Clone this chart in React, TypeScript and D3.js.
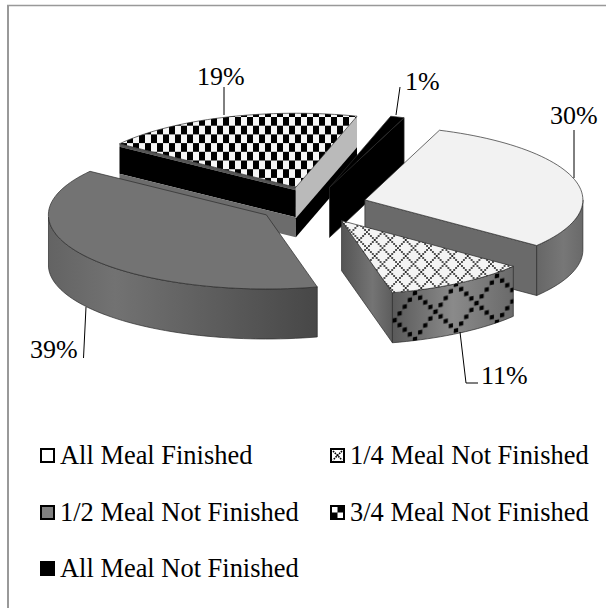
import * as d3 from 'd3';

// ─── Data ───────────────────────────────────────────────────

const categories = [
  'All Meal Finished',
  '1/4 Meal Not Finished',
  '1/2 Meal Not Finished',
  '3/4 Meal Not Finished',
  'All Meal Not Finished',
];
const percentages = [30, 11, 39, 19, 1];
const sliceLabels = ['30%', '11%', '39%', '19%', '1%'];

// ─── Layout ─────────────────────────────────────────────────

const width = 606;
const height = 608;
const font = '"Liberation Serif", "Times New Roman", serif';
const fontSize = 26;
const legendFontSize = 26.45;

const cx = 312.5;
const cy = 205;
const radius = 218;
const tilt = 0.34; // ellipse squash of the 3D view
const depth = 50;
const explode = 0.25;
const toRad = Math.PI / 180;

// the original has a slight perspective, so screen angles drift a little from true ones
const perspective = d3
  .scaleLinear()
  .domain([20, 128, 167.6, 308, 380].map((d) => d * toRad))
  .range([0, 0, 1.1, 2, 0].map((d) => d * toRad));

// back to front
const drawOrder = [3, 4, 0, 2, 1];

const leaders = [
  { pts: [[574, 130], [574, 178]], tx: 550, ty: 124 },
  { pts: [[460, 332], [466, 383], [478, 383]], tx: 481, ty: 384 },
  { pts: [[86, 307], [83.5, 358]], tx: 30, ty: 358 },
  { pts: [[224, 87], [224, 115]], tx: 197, ty: 85 },
  { pts: [[400, 87], [396, 115]], tx: 405, ty: 90 },
];

const legendPos = [
  { x: 40, y: 448 },
  { x: 330, y: 448 },
  { x: 40, y: 505 },
  { x: 330, y: 505 },
  { x: 40, y: 561 },
];

const topFill = ['#f2f2f2', 'url(#lattice)', '#737373', 'url(#checker)', '#000'];
const arcFill = ['url(#arc30)', 'url(#arc11)', 'url(#arc39)', '#000', '#000'];
const radialFill = ['#6a6a6a', 'url(#rad11)', '#6a6a6a', '#000', '#000'];

// colour bands down the cut faces of the 19% slice: [from depth, to depth, colour]
const bandsFront: [number, number, string][] = [
  [0, 3, '#555'],
  [3, 30, '#000'],
  [30, 50, '#6c6c6c'],
];
const bandsCut: [number, number, string][] = [
  [0, 31, '#bababa'],
  [31, 50, '#000'],
];

// ─── Geometry ───────────────────────────────────────────────

const pie = d3
  .pie<number>()
  .sort(null)
  .startAngle(20 * toRad)
  .endAngle(380 * toRad);
const arcs = pie(percentages);

const toPath = d3.line<[number, number]>();

function apex(a: d3.PieArcDatum<number>): [number, number] {
  const mid = (a.startAngle + a.endAngle) / 2;
  return [
    cx + explode * radius * Math.sin(mid),
    cy - explode * radius * tilt * Math.cos(mid),
  ];
}

function rim(a: d3.PieArcDatum<number>, t: number): [number, number] {
  const [ax, ay] = apex(a);
  const s = t - perspective(t);
  return [ax + radius * Math.sin(s), ay - radius * tilt * Math.cos(s)];
}

function samples(a: d3.PieArcDatum<number>, t0: number, t1: number) {
  const n = Math.max(2, Math.ceil((t1 - t0) / (toRad * 2)));
  return d3.range(n + 1).map((i) => rim(a, t0 + ((t1 - t0) * i) / n));
}

const down = (p: [number, number], d: number): [number, number] => [p[0], p[1] + d];

function radialFace(a: d3.PieArcDatum<number>, t: number, d0 = 0, d1 = depth) {
  const ap = apex(a);
  const r = rim(a, t);
  return toPath([down(ap, d0), down(r, d0), down(r, d1), down(ap, d1)])! + 'Z';
}

function Slice({ index }: { index: number }) {
  const a = arcs[index];
  const ap = apex(a);
  const top = toPath([ap, ...samples(a, a.startAngle, a.endAngle)])! + 'Z';

  const arcFrom = Math.max(a.startAngle, 90 * toRad);
  const arcTo = Math.min(a.endAngle, 270 * toRad);
  let rimFace: string | null = null;
  if (arcTo > arcFrom) {
    const upper = samples(a, arcFrom, arcTo);
    const lower = upper.map((p) => down(p, depth)).reverse();
    rimFace = toPath([...upper, ...lower])! + 'Z';
  }

  const startShows = Math.sin(a.startAngle) < 0;
  const endShows = Math.sin(a.endAngle) > 0;
  const edge = { stroke: '#2b2b2b', strokeWidth: 0.7, strokeLinejoin: 'round' as const };

  return (
    <g>
      {startShows &&
        (index === 3 ? (
          bandsFront.map(([d0, d1, c]) => (
            <path key={d0} d={radialFace(a, a.startAngle, d0, d1)} fill={c} />
          ))
        ) : (
          <path d={radialFace(a, a.startAngle)} fill={radialFill[index]} {...edge} />
        ))}
      {endShows &&
        (index === 3 ? (
          bandsCut.map(([d0, d1, c]) => (
            <path key={d0} d={radialFace(a, a.endAngle, d0, d1)} fill={c} />
          ))
        ) : (
          <path d={radialFace(a, a.endAngle)} fill={radialFill[index]} {...edge} />
        ))}
      {rimFace && <path d={rimFace} fill={arcFill[index]} {...edge} />}
      {rimFace && index === 1 && <path d={rimFace} fill="url(#latticeBig)" />}
      <path d={top} fill={topFill[index]} {...edge} />
    </g>
  );
}

// dotted diagonals of the lattice tile
function LatticeDots({ w, h, n, s, color }: { w: number; h: number; n: number; s: number; color: string }) {
  return (
    <>
      {d3.range(n).map((i) => (
        <g key={i} fill={color}>
          <rect x={(i * w) / n - s / 2} y={(i * h) / n - s / 2} width={s} height={s} />
          <rect x={w - (i * w) / n - s / 2} y={(i * h) / n - s / 2} width={s} height={s} />
          {i === 0 && <rect x={-s / 2} y={h - s / 2} width={s} height={s} />}
          {i === 0 && <rect x={w - s / 2} y={h - s / 2} width={s} height={s} />}
          {i === 0 && <rect x={w - s / 2} y={-s / 2} width={s} height={s} />}
        </g>
      ))}
    </>
  );
}

function Swatch({ index, x, y }: { index: number; x: number; y: number }) {
  const size = 15;
  const inner = { x: x + 1, y: y + 1, width: size - 2, height: size - 2 };
  if (index === 0) return <rect {...inner} fill="#fff" stroke="#000" strokeWidth={2} />;
  if (index === 2) return <rect {...inner} fill="#808080" stroke="#000" strokeWidth={2} />;
  if (index === 4) return <rect x={x} y={y} width={size} height={size} fill="#000" />;
  if (index === 1) {
    return (
      <g>
        <rect {...inner} fill="#fff" stroke="#000" strokeWidth={2} />
        <path
          d={`M${x + 3},${y + 3}L${x + size - 3},${y + size - 3}M${x + size - 3},${y + 3}L${x + 3},${y + size - 3}`}
          stroke="#000"
          strokeWidth={1.6}
          strokeDasharray="1.6 0.9"
        />
      </g>
    );
  }
  const half = size / 2;
  return (
    <g>
      <rect x={x} y={y} width={size} height={size} fill="#000" />
      <rect x={x + 2} y={y + 2} width={half - 2} height={half - 2} fill="#fff" />
      <rect x={x + half} y={y + half} width={half - 2} height={half - 2} fill="#fff" />
    </g>
  );
}

export default function App() {
  const labelLine = d3.line<number[]>().x((d) => d[0]).y((d) => d[1]);

  return (
    <svg
      width={width}
      height={height}
      style={{ position: 'absolute', left: 0, top: 0, display: 'block', background: '#fff' }}
      fontFamily={font}
    >
      <defs>
        <pattern id="checker" patternUnits="userSpaceOnUse" width={12} height={17.4} x={211} y={117}>
          <rect width={12} height={17.4} fill="#f6f6f6" />
          <rect width={6} height={8.7} fill="#000" />
          <rect x={6} y={8.7} width={6} height={8.7} fill="#000" />
        </pattern>
        <pattern id="lattice" patternUnits="userSpaceOnUse" width={15.5} height={16} x={398} y={264}>
          <rect width={15.5} height={16} fill="#f4f4f4" />
          <LatticeDots w={15.5} h={16} n={8} s={1.7} color="#1a1a1a" />
        </pattern>
        <pattern
          id="latticeBig"
          patternUnits="userSpaceOnUse"
          width={41}
          height={46}
          patternTransform="translate(415,293) skewY(-11.8)"
        >
          <LatticeDots w={41} h={46} n={8} s={4.2} color="#000" />
        </pattern>
        <linearGradient id="arc39" gradientUnits="userSpaceOnUse" x1={48} x2={317} y1={0} y2={0}>
          <stop offset="0%" stopColor="#636363" />
          <stop offset="25%" stopColor="#727272" />
          <stop offset="100%" stopColor="#474747" />
        </linearGradient>
        <linearGradient id="arc30" gradientUnits="userSpaceOnUse" x1={536} x2={582} y1={0} y2={0}>
          <stop offset="0%" stopColor="#666" />
          <stop offset="60%" stopColor="#777" />
          <stop offset="100%" stopColor="#6a6a6a" />
        </linearGradient>
        <linearGradient id="arc11" gradientUnits="userSpaceOnUse" x1={393} x2={513} y1={0} y2={0}>
          <stop offset="0%" stopColor="#5a5a5a" />
          <stop offset="50%" stopColor="#8a8a8a" />
          <stop offset="100%" stopColor="#6a6a6a" />
        </linearGradient>
        <linearGradient id="rad11" gradientUnits="userSpaceOnUse" x1={342} x2={393} y1={0} y2={0}>
          <stop offset="0%" stopColor="#555" />
          <stop offset="60%" stopColor="#747474" />
          <stop offset="100%" stopColor="#5c5c5c" />
        </linearGradient>
      </defs>

      {/* frame, only the top and left edges fall inside the crop */}
      <line x1={8} x2={8} y1={5} y2={height} stroke="#999" strokeWidth={2} />
      <line x1={7} x2={width} y1={5.5} y2={5.5} stroke="#999" strokeWidth={1.5} />

      {drawOrder.map((i) => (
        <Slice key={categories[i]} index={i} />
      ))}

      {leaders.map((l, i) => (
        <g key={sliceLabels[i]}>
          <path d={labelLine(l.pts)!} fill="none" stroke="#000" strokeWidth={1} />
          <text x={l.tx} y={l.ty} fontSize={fontSize} fill="#000">
            {sliceLabels[i]}
          </text>
        </g>
      ))}

      {categories.map((c, i) => (
        <g key={c}>
          <Swatch index={i} x={legendPos[i].x} y={legendPos[i].y} />
          <text x={legendPos[i].x + 20} y={legendPos[i].y + 16} fontSize={legendFontSize} fill="#000">
            {c}
          </text>
        </g>
      ))}
    </svg>
  );
}
